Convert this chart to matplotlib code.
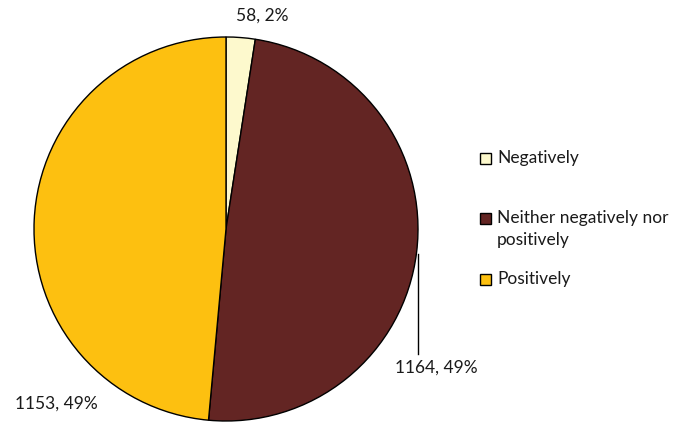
import matplotlib.pyplot as plt
from matplotlib.patches import Rectangle

categories = ["Negatively", "Neither negatively nor\npositively", "Positively"]
counts = [58, 1164, 1153]
pcts = [2, 49, 49]
colors = ["#FDF9CD", "#632523", "#FDC010"]

plt.rcParams['font.family'] = ['Lato', 'DejaVu Sans']

fig = plt.figure(figsize=(6.91, 4.23), dpi=100)
ax = fig.add_axes([0, 0, 1, 1])

# pie in pixel-like coords (y up)
cx, cy, r = 226, 423 - 229, 192
wedges, _ = ax.pie(counts, colors=colors, startangle=90, counterclock=False,
                   center=(cx, cy), radius=r, frame=True,
                   wedgeprops=dict(edgecolor="black", linewidth=1.0))
ax.set_xlim(0, 691)
ax.set_ylim(0, 423)
ax.set_aspect("equal")
ax.axis("off")

fs = 12.5
labels = [f"{c}, {p}%" for c, p in zip(counts, pcts)]
ax.text(262, 423 - 16, labels[0], fontsize=fs, ha="center", va="center", color="#1a1a1a")
ax.text(436, 423 - 368, labels[1], fontsize=fs, ha="center", va="center", color="#1a1a1a")
ax.text(56, 423 - 404, labels[2], fontsize=fs, ha="center", va="center", color="#1a1a1a")
# leader line for the middle label
ax.plot([418, 418], [423 - 254, 423 - 354], color="black", linewidth=1.0)

# legend
leg_y = [158, 218, 279]
for lab, col, y in zip(categories, colors, leg_y):
    ax.add_patch(Rectangle((480, 423 - y - 6), 11, 11, facecolor=col,
                           edgecolor="black", linewidth=1.0))
    for i, line in enumerate(lab.split("\n")):
        ax.text(497, 423 - y - 22 * i, line, fontsize=fs, ha="left", va="center",
                color="#1a1a1a")

fig.savefig("out.png", dpi=100)
